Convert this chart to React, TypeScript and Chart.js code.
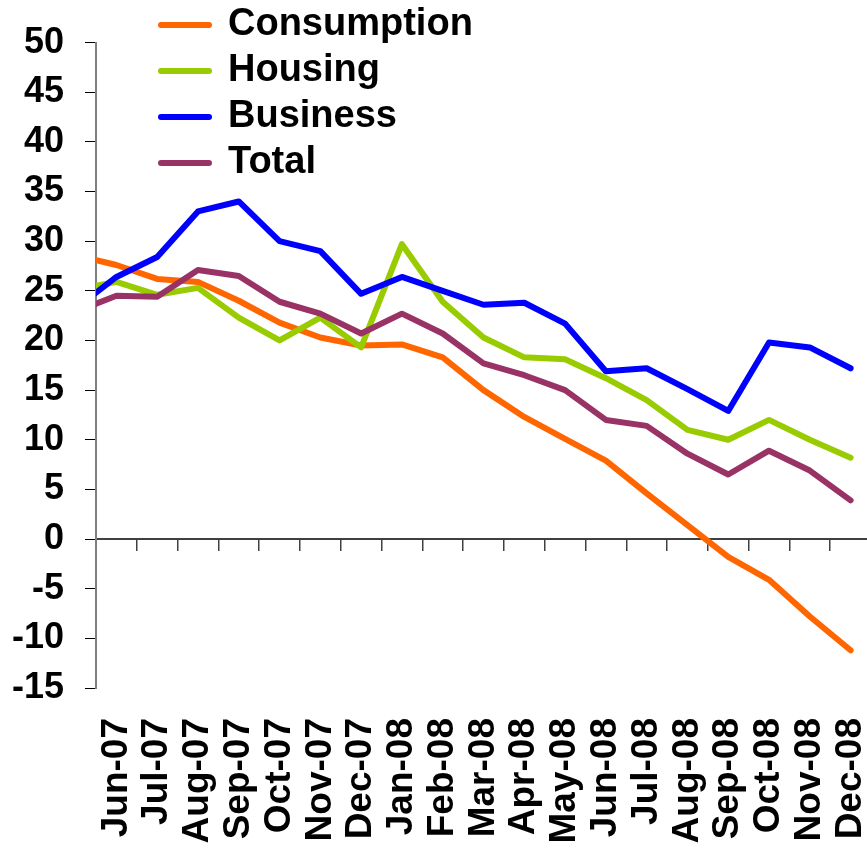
import React, { useEffect, useRef } from 'react';
import { Chart, registerables } from 'chart.js';

Chart.register(...registerables);

// First category (May-07) lies just left of the plotted range; only its connecting segment is visible.
const months = [
  'May-07', 'Jun-07', 'Jul-07', 'Aug-07', 'Sep-07', 'Oct-07', 'Nov-07', 'Dec-07',
  'Jan-08', 'Feb-08', 'Mar-08', 'Apr-08', 'May-08', 'Jun-08', 'Jul-08', 'Aug-08',
  'Sep-08', 'Oct-08', 'Nov-08', 'Dec-08',
];
const firstShown = 'Jun-07';

const consumption = [28.6, 27.6, 26.2, 25.9, 24.0, 21.8, 20.3, 19.5, 19.6, 18.3, 15.0, 12.3, 10.1, 7.9, 4.6, 1.4, -1.8, -4.1, -7.8, -11.2];
const housing = [25.1, 25.9, 24.6, 25.3, 22.3, 20.0, 22.3, 19.3, 29.7, 23.9, 20.3, 18.3, 18.1, 16.2, 14.0, 11.0, 10.0, 12.0, 10.0, 8.2];
const business = [23.2, 26.4, 28.4, 33.0, 34.0, 30.0, 29.0, 24.7, 26.4, 25.0, 23.6, 23.8, 21.7, 16.9, 17.2, 15.1, 12.9, 19.8, 19.3, 17.2];
const total = [22.9, 24.5, 24.4, 27.1, 26.5, 23.9, 22.7, 20.7, 22.7, 20.7, 17.7, 16.5, 15.0, 12.0, 11.4, 8.6, 6.5, 8.9, 6.9, 3.9];

const seriesNames = ['Consumption', 'Housing', 'Business', 'Total'];
const seriesColors = ['#FF6600', '#99CC00', '#0000FF', '#993366'];

const yMin = -15;
const yMax = 50;
const yStep = 5;

const FONT = "'Liberation Sans', Arial, Helvetica, sans-serif";

const legendMover = {
  id: 'legendMover',
  afterLayout(chart: any) {
    const lg = chart.legend;
    if (!lg) return;
    lg.left = 153;
    lg.top = -2;
    lg.right = lg.left + 400;
    lg.bottom = lg.top + 400;
  },
};

export default function App() {
  const ref = useRef<HTMLCanvasElement | null>(null);

  useEffect(() => {
    if (!ref.current) return;
    const values = [consumption, housing, business, total];
    const chart = new Chart(ref.current, {
      type: 'line',
      data: {
        labels: months,
        datasets: values.map((v, i) => ({
          label: seriesNames[i],
          data: v,
          borderColor: seriesColors[i],
          backgroundColor: seriesColors[i],
          borderWidth: 6,
          pointRadius: 0,
          pointHoverRadius: 0,
          tension: 0,
          borderCapStyle: 'round',
          borderJoinStyle: 'round',
          fill: false,
          order: values.length - 1 - i,
          clip: { left: 0, right: 6, top: 6, bottom: 6 },
        })),
      },
      options: {
        responsive: false,
        animation: false,
        devicePixelRatio: 1,
        layout: { padding: { top: 42, left: 0, right: 0, bottom: 0 } },
        plugins: {
          legend: {
            position: 'chartArea',
            align: 'start',
            labels: {
              usePointStyle: true,
              pointStyleWidth: 48,
              padding: 8,
              color: '#000',
              font: { family: FONT, size: 38, weight: 'bold' },
              generateLabels: (c: any) =>
                c.data.datasets.map((ds: any, i: number) => ({
                  text: ds.label,
                  fillStyle: ds.borderColor,
                  strokeStyle: ds.borderColor,
                  lineWidth: 6,
                  lineCap: 'round',
                  pointStyle: 'line',
                  hidden: false,
                  datasetIndex: i,
                  fontColor: '#000',
                })),
            },
          },
          tooltip: { enabled: false },
          title: { display: false },
        },
        scales: {
          x: {
            type: 'category',
            position: 'bottom',
            min: firstShown,
            offset: true,
            grid: { display: false, drawTicks: false },
            border: { display: false },
            ticks: {
              autoSkip: false,
              maxRotation: 90,
              minRotation: 90,
              padding: 30,
              color: '#000',
              font: { family: FONT, size: 37, weight: 'bold' },
            },
            afterFit: (s: any) => {
              s.height = 160;
              s.paddingLeft = 0;
              s.paddingRight = 0;
            },
          },
          x2: {
            type: 'category',
            axis: 'x',
            position: { y: 0 },
            labels: months,
            min: firstShown,
            offset: true,
            grid: {
              offset: true,
              drawOnChartArea: false,
              drawTicks: true,
              tickLength: 11,
              color: '#404040',
              tickColor: '#404040',
              lineWidth: 1.5,
            },
            border: { display: true, color: '#404040', width: 2 },
            ticks: { display: false },
            afterFit: (s: any) => {
              s.paddingLeft = 0;
              s.paddingRight = 0;
            },
          },
          y: {
            type: 'linear',
            position: 'left',
            min: yMin,
            max: yMax,
            grid: {
              drawOnChartArea: false,
              drawTicks: true,
              tickLength: 11,
              color: '#000',
              tickColor: '#000',
              lineWidth: 1,
            },
            border: { display: true, color: '#808080', width: 2 },
            ticks: {
              stepSize: yStep,
              autoSkip: false,
              padding: 21,
              color: '#000',
              font: { family: FONT, size: 36, weight: 'bold' },
            },
            afterFit: (s: any) => {
              s.width = 96;
            },
          },
        },
      } as any,
      plugins: [legendMover],
    });
    return () => chart.destroy();
  }, []);

  return (
    <div style={{ position: 'fixed', left: 0, top: 0, width: 867, height: 848, overflow: 'hidden', background: '#fff' }}>
      <canvas ref={ref} width={871} height={848} style={{ display: 'block', width: 871, height: 848 }} />
    </div>
  );
}
